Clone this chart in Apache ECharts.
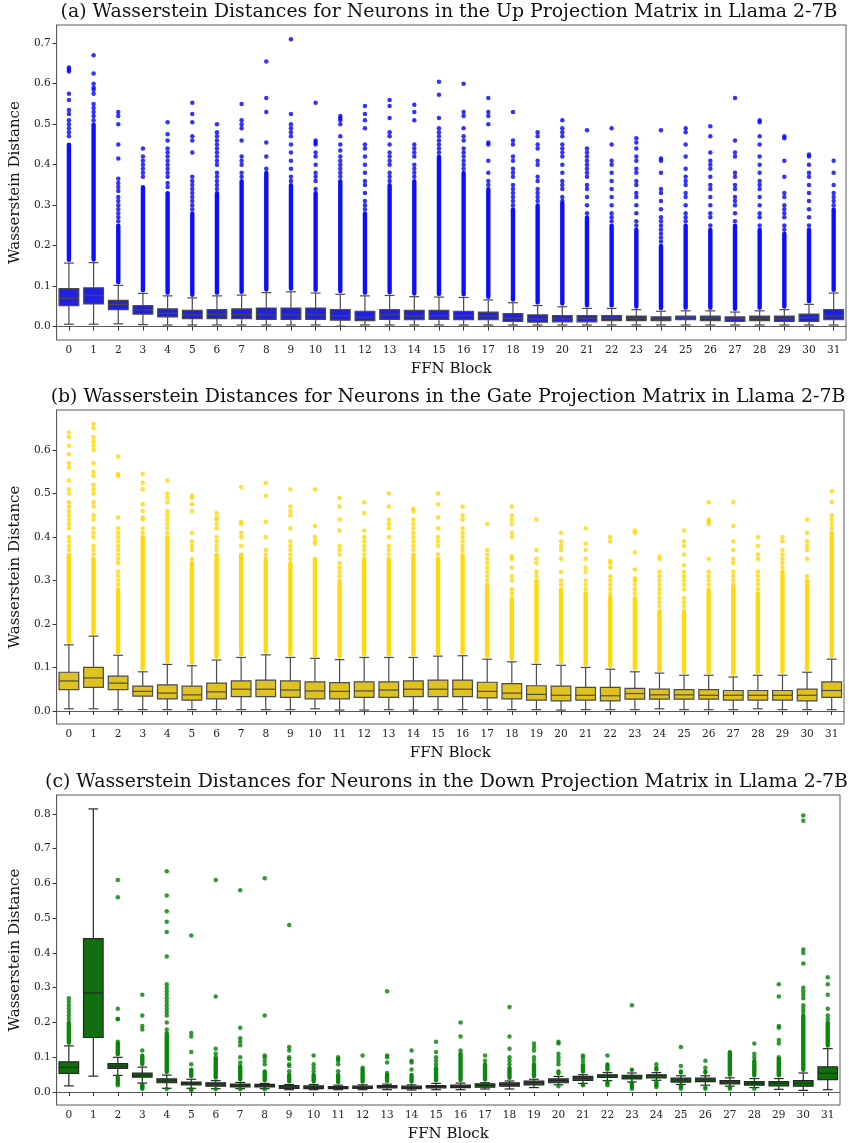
<!DOCTYPE html>
<html><head><meta charset="utf-8">
<script src="https://cdn.jsdelivr.net/npm/echarts@6/dist/echarts.min.js"></script>
<style>html,body{margin:0;padding:0;background:#fff}#c{width:849px;height:1143px}</style>
</head><body><div id="c"></div><script>
// ---------- categories & ticks ----------
const blocks = ['0','1','2','3','4','5','6','7','8','9','10','11','12','13','14','15','16','17','18','19','20','21','22','23','24','25','26','27','28','29','30','31'];
const ticksA = [0.0,0.1,0.2,0.3,0.4,0.5,0.6,0.7];
const ticksB = [0.0,0.1,0.2,0.3,0.4,0.5,0.6];
const ticksC = [0.0,0.1,0.2,0.3,0.4,0.5,0.6,0.7,0.8];

// ---------- (a) Up projection ----------
const aLow  = [0.006,0.006,0.007,0.005,0.004,0.004,0.004,0.004,0.004,0.004,0.004,0.001,0.004,0.004,0.004,0.004,0.004,0.004,0.004,0.004,0.004,0.004,0.004,0.004,0.004,0.004,0.004,0.004,0.004,0.004,0.004,0.004];
const aQ1   = [0.052,0.056,0.042,0.031,0.024,0.020,0.020,0.020,0.018,0.018,0.018,0.016,0.015,0.018,0.017,0.018,0.017,0.017,0.013,0.011,0.012,0.012,0.015,0.015,0.015,0.017,0.015,0.013,0.015,0.013,0.013,0.017];
const aMed  = [0.070,0.077,0.055,0.041,0.033,0.029,0.030,0.030,0.029,0.029,0.029,0.027,0.023,0.029,0.026,0.027,0.027,0.026,0.021,0.019,0.019,0.020,0.021,0.020,0.019,0.022,0.021,0.019,0.020,0.019,0.022,0.026];
const aQ3   = [0.094,0.096,0.065,0.052,0.044,0.040,0.042,0.044,0.046,0.046,0.046,0.042,0.038,0.042,0.040,0.040,0.038,0.036,0.032,0.029,0.027,0.027,0.027,0.026,0.024,0.026,0.026,0.024,0.026,0.026,0.031,0.042];
const aHigh = [0.157,0.158,0.102,0.082,0.076,0.071,0.076,0.078,0.084,0.086,0.083,0.080,0.076,0.077,0.074,0.073,0.072,0.066,0.059,0.052,0.049,0.045,0.045,0.042,0.038,0.039,0.039,0.036,0.039,0.042,0.055,0.083];
const aDense = [0.45,0.50,0.25,0.345,0.33,0.28,0.33,0.36,0.38,0.35,0.33,0.36,0.28,0.35,0.36,0.42,0.38,0.34,0.29,0.30,0.305,0.27,0.25,0.24,0.20,0.25,0.24,0.25,0.24,0.23,0.24,0.29];
const aOut = [
 [0.47,0.48,0.49,0.50,0.51,0.525,0.535,0.56,0.575,0.63,0.635,0.64],
 [0.51,0.52,0.53,0.54,0.55,0.575,0.585,0.59,0.60,0.625,0.67],
 [0.26,0.27,0.28,0.29,0.30,0.31,0.32,0.335,0.345,0.355,0.365,0.415,0.45,0.50,0.52,0.53],
 [0.37,0.38,0.39,0.40,0.41,0.42,0.44],
 [0.345,0.355,0.37,0.38,0.39,0.40,0.41,0.42,0.43,0.44,0.46,0.475,0.505],
 [0.29,0.30,0.31,0.32,0.33,0.34,0.35,0.36,0.37,0.43,0.46,0.47,0.505,0.525,0.553],
 [0.34,0.35,0.36,0.37,0.38,0.40,0.41,0.42,0.43,0.44,0.45,0.46,0.47,0.48,0.50],
 [0.37,0.38,0.40,0.41,0.42,0.46,0.49,0.50,0.51,0.55],
 [0.39,0.42,0.455,0.53,0.565,0.655],
 [0.36,0.37,0.39,0.41,0.43,0.45,0.47,0.48,0.49,0.50,0.525,0.71],
 [0.34,0.36,0.37,0.38,0.40,0.42,0.43,0.45,0.455,0.46,0.553],
 [0.37,0.38,0.39,0.40,0.41,0.42,0.435,0.45,0.47,0.50,0.51,0.515,0.52],
 [0.29,0.30,0.31,0.33,0.35,0.36,0.38,0.40,0.42,0.44,0.45,0.49,0.51,0.525,0.545],
 [0.36,0.37,0.38,0.40,0.41,0.42,0.43,0.45,0.47,0.48,0.515,0.545,0.56],
 [0.37,0.38,0.39,0.40,0.42,0.43,0.44,0.45,0.51,0.53,0.548],
 [0.43,0.44,0.45,0.46,0.47,0.48,0.49,0.515,0.573,0.605],
 [0.39,0.40,0.41,0.42,0.43,0.44,0.46,0.47,0.49,0.52,0.53,0.60],
 [0.35,0.36,0.38,0.41,0.45,0.455,0.50,0.52,0.53,0.565],
 [0.30,0.31,0.32,0.33,0.34,0.35,0.37,0.38,0.39,0.41,0.42,0.45,0.46,0.53],
 [0.31,0.32,0.33,0.34,0.36,0.37,0.40,0.41,0.44,0.45,0.47,0.48],
 [0.31,0.32,0.34,0.35,0.36,0.38,0.40,0.42,0.43,0.44,0.45,0.47,0.48,0.49,0.51],
 [0.28,0.30,0.32,0.34,0.35,0.37,0.38,0.39,0.40,0.41,0.42,0.43,0.44,0.485],
 [0.26,0.27,0.28,0.30,0.32,0.34,0.36,0.38,0.40,0.41,0.45,0.49],
 [0.25,0.26,0.28,0.30,0.32,0.33,0.35,0.36,0.38,0.39,0.41,0.42,0.44,0.455,0.465],
 [0.21,0.22,0.23,0.24,0.25,0.26,0.27,0.29,0.31,0.33,0.34,0.38,0.41,0.415,0.485],
 [0.26,0.27,0.28,0.30,0.32,0.33,0.35,0.36,0.37,0.39,0.42,0.45,0.48,0.49],
 [0.25,0.27,0.28,0.30,0.32,0.34,0.35,0.37,0.39,0.40,0.41,0.43,0.47,0.495],
 [0.26,0.28,0.30,0.31,0.32,0.34,0.35,0.37,0.38,0.42,0.43,0.46,0.565],
 [0.25,0.27,0.28,0.30,0.32,0.34,0.35,0.36,0.38,0.40,0.42,0.45,0.47,0.505,0.51],
 [0.24,0.25,0.27,0.28,0.29,0.30,0.32,0.33,0.37,0.41,0.465,0.47],
 [0.25,0.27,0.29,0.31,0.33,0.35,0.37,0.38,0.40,0.42,0.425],
 [0.30,0.31,0.32,0.33,0.35,0.38,0.41]
];

// ---------- (b) Gate projection ----------
const bLow  = [0.005,0.005,0.003,0.003,0.003,0.003,0.003,0.003,0.003,0.003,0.005,0.002,0.002,0.003,0.002,0.003,0.003,0.003,0.003,0.003,0.002,0.003,0.003,0.003,0.005,0.003,0.003,0.003,0.005,0.003,0.003,0.003];
const bQ1   = [0.049,0.054,0.049,0.034,0.028,0.025,0.028,0.033,0.033,0.031,0.028,0.028,0.031,0.031,0.033,0.033,0.033,0.030,0.028,0.025,0.023,0.025,0.023,0.027,0.027,0.027,0.027,0.025,0.025,0.025,0.023,0.031];
const bMed  = [0.069,0.076,0.064,0.045,0.041,0.037,0.044,0.050,0.050,0.048,0.046,0.045,0.046,0.048,0.050,0.050,0.050,0.045,0.041,0.038,0.036,0.036,0.035,0.040,0.037,0.037,0.036,0.036,0.036,0.036,0.036,0.047];
const bQ3   = [0.089,0.100,0.080,0.057,0.060,0.057,0.064,0.069,0.071,0.069,0.067,0.065,0.067,0.067,0.069,0.071,0.071,0.066,0.063,0.058,0.057,0.054,0.054,0.052,0.050,0.049,0.049,0.047,0.047,0.047,0.050,0.067];
const bHigh = [0.152,0.172,0.128,0.090,0.107,0.104,0.117,0.123,0.129,0.123,0.121,0.118,0.123,0.123,0.123,0.126,0.127,0.119,0.113,0.107,0.105,0.100,0.096,0.090,0.087,0.082,0.082,0.078,0.082,0.082,0.089,0.119];
const bDense = [0.36,0.35,0.28,0.40,0.40,0.34,0.36,0.36,0.35,0.34,0.35,0.30,0.35,0.35,0.36,0.35,0.355,0.29,0.255,0.30,0.28,0.27,0.263,0.26,0.23,0.225,0.28,0.285,0.27,0.32,0.30,0.41];
const bOut = [
 [0.37,0.38,0.39,0.40,0.42,0.43,0.44,0.45,0.46,0.47,0.48,0.50,0.51,0.53,0.56,0.57,0.59,0.61,0.63,0.64],
 [0.36,0.37,0.38,0.40,0.41,0.42,0.44,0.45,0.47,0.48,0.50,0.51,0.52,0.54,0.55,0.57,0.60,0.61,0.62,0.63,0.65,0.66],
 [0.29,0.30,0.31,0.32,0.34,0.35,0.36,0.37,0.38,0.39,0.40,0.41,0.42,0.445,0.54,0.545,0.585],
 [0.41,0.42,0.44,0.445,0.46,0.475,0.51,0.525,0.545],
 [0.41,0.42,0.43,0.44,0.45,0.46,0.48,0.49,0.50,0.53],
 [0.35,0.37,0.38,0.39,0.41,0.46,0.475,0.49,0.495],
 [0.37,0.38,0.39,0.40,0.42,0.43,0.44,0.445,0.455],
 [0.38,0.40,0.41,0.43,0.435,0.515],
 [0.36,0.37,0.40,0.435,0.495,0.525],
 [0.35,0.36,0.37,0.38,0.39,0.42,0.45,0.46,0.47,0.51],
 [0.385,0.39,0.40,0.425,0.51],
 [0.31,0.32,0.33,0.34,0.36,0.37,0.38,0.415,0.44,0.47,0.49],
 [0.36,0.37,0.38,0.39,0.40,0.415,0.455,0.48],
 [0.36,0.37,0.38,0.40,0.42,0.43,0.44,0.47,0.50],
 [0.37,0.38,0.39,0.40,0.41,0.42,0.43,0.44,0.46,0.465],
 [0.36,0.38,0.39,0.40,0.42,0.445,0.475,0.50],
 [0.36,0.37,0.38,0.39,0.40,0.41,0.42,0.44,0.45,0.47],
 [0.30,0.31,0.32,0.33,0.34,0.35,0.36,0.37,0.43],
 [0.26,0.27,0.28,0.30,0.31,0.33,0.35,0.355,0.40,0.41,0.43,0.44,0.45,0.47],
 [0.31,0.32,0.34,0.35,0.37,0.44],
 [0.29,0.30,0.32,0.35,0.37,0.38,0.39,0.41],
 [0.28,0.29,0.30,0.32,0.33,0.35,0.37,0.385,0.42],
 [0.27,0.28,0.29,0.30,0.31,0.33,0.34,0.345,0.39,0.40],
 [0.27,0.28,0.29,0.30,0.305,0.325,0.365,0.41,0.415],
 [0.24,0.25,0.26,0.27,0.28,0.29,0.30,0.31,0.32,0.35,0.355],
 [0.23,0.24,0.25,0.26,0.28,0.29,0.30,0.31,0.32,0.335,0.36,0.38,0.39,0.415],
 [0.29,0.30,0.31,0.32,0.35,0.43,0.435,0.44,0.48],
 [0.29,0.30,0.31,0.32,0.34,0.35,0.37,0.39,0.425,0.48],
 [0.28,0.29,0.30,0.31,0.32,0.35,0.36,0.38,0.40],
 [0.33,0.34,0.35,0.36,0.37,0.39,0.40],
 [0.31,0.35,0.37,0.38,0.39,0.41,0.44],
 [0.42,0.43,0.44,0.45,0.48,0.505]
];

// ---------- (c) Down projection ----------
const cLow  = [0.018,0.046,0.048,0.026,0.011,0.011,0.010,0.010,0.010,0.007,0.007,0.007,0.007,0.007,0.006,0.007,0.007,0.009,0.009,0.013,0.021,0.025,0.033,0.029,0.034,0.022,0.020,0.017,0.013,0.008,0.005,0.007];
const cQ1   = [0.054,0.157,0.068,0.043,0.027,0.021,0.017,0.015,0.015,0.011,0.010,0.010,0.011,0.012,0.010,0.012,0.013,0.014,0.017,0.021,0.027,0.034,0.042,0.038,0.041,0.029,0.030,0.024,0.020,0.018,0.017,0.036];
const cMed  = [0.071,0.285,0.075,0.049,0.032,0.025,0.023,0.019,0.018,0.015,0.014,0.013,0.014,0.016,0.013,0.016,0.016,0.019,0.022,0.027,0.033,0.040,0.047,0.043,0.047,0.035,0.035,0.029,0.025,0.025,0.025,0.054];
const cQ3   = [0.087,0.441,0.082,0.055,0.038,0.029,0.027,0.023,0.022,0.019,0.018,0.016,0.017,0.019,0.017,0.019,0.020,0.024,0.027,0.032,0.038,0.045,0.050,0.048,0.050,0.040,0.040,0.033,0.030,0.030,0.033,0.073];
const cHigh = [0.133,0.814,0.100,0.072,0.049,0.037,0.033,0.028,0.025,0.022,0.022,0.020,0.021,0.023,0.021,0.025,0.026,0.027,0.032,0.037,0.045,0.050,0.056,0.055,0.056,0.047,0.047,0.041,0.039,0.039,0.055,0.125];
const cDense = [0.20,null,0.14,0.105,0.17,0.065,0.095,0.075,0.06,0.05,0.05,0.05,0.06,0.05,0.05,0.07,0.11,0.08,0.07,0.08,0.06,0.075,0.08,0.065,0.07,0.06,0.06,0.115,0.09,0.095,0.22,0.20];
const cOut = [
 [0.21,0.22,0.23,0.24,0.25,0.26,0.27],
 [],
 [0.145,0.21,0.21,0.24,0.56,0.61,0.045,0.04,0.035,0.03,0.025,0.02],
 [0.12,0.18,0.19,0.22,0.28,0.022,0.018,0.015,0.012,0.01],
 [0.18,0.20,0.22,0.23,0.24,0.25,0.26,0.27,0.28,0.29,0.30,0.31,0.39,0.46,0.49,0.52,0.565,0.635,0.009],
 [0.08,0.115,0.16,0.17,0.45,0.008,0.006],
 [0.10,0.11,0.125,0.275,0.61,0.008],
 [0.085,0.10,0.135,0.145,0.155,0.185,0.58,0.008],
 [0.08,0.09,0.10,0.105,0.22,0.615,0.008],
 [0.06,0.075,0.08,0.095,0.10,0.12,0.13,0.48],
 [0.06,0.07,0.08,0.105],
 [0.06,0.08,0.09,0.095,0.10],
 [0.065,0.07,0.105],
 [0.055,0.085,0.10,0.105,0.29],
 [0.065,0.085,0.09,0.12],
 [0.08,0.09,0.10,0.115,0.145],
 [0.12,0.16,0.20],
 [0.09,0.105],
 [0.08,0.09,0.10,0.125,0.16,0.245],
 [0.09,0.10,0.12,0.13,0.14],
 [0.08,0.09,0.10,0.11,0.14,0.145,0.017],
 [0.08,0.09,0.10,0.105,0.022,0.02],
 [0.105,0.03,0.025,0.02],
 [0.25,0.028,0.025,0.02,0.015,0.01],
 [0.08,0.03,0.025,0.02,0.015],
 [0.075,0.13,0.02,0.015,0.01],
 [0.07,0.09,0.015,0.01],
 [0.013,0.01],
 [0.10,0.11,0.14,0.01],
 [0.10,0.14,0.15,0.185,0.19,0.275,0.31],
 [0.23,0.24,0.25,0.27,0.28,0.29,0.30,0.37,0.40,0.41,0.78,0.795],
 [0.21,0.22,0.24,0.28,0.31,0.33]
];

const titles = [
 '(a) Wasserstein Distances for Neurons in the Up Projection Matrix in Llama 2-7B',
 '(b) Wasserstein Distances for Neurons in the Gate Projection Matrix in Llama 2-7B',
 '(c) Wasserstein Distances for Neurons in the Down Projection Matrix in Llama 2-7B'
];

const SERIF = 'DejaVu Serif';
const panels = [
  {grid:{left:53, top:25, width:793, height:315}, min:-0.033, max:0.745, ticks:ticksA,
   low:aLow,q1:aQ1,med:aMed,q3:aQ3,high:aHigh,dense:aDense,out:aOut,
   fill:'#2020df', line:'#4a4a4a', flier:'#0000ff', titleX:449, titleY:12.5},
  {grid:{left:54, top:410, width:790, height:314}, min:-0.030, max:0.692, ticks:ticksB,
   low:bLow,q1:bQ1,med:bMed,q3:bQ3,high:bHigh,dense:bDense,out:bOut,
   fill:'#dfc120', line:'#4a4a4a', flier:'#ffd700', titleX:448, titleY:397.5},
  {grid:{left:53, top:795, width:787, height:313}, min:-0.037, max:0.854, ticks:ticksC,
   low:cLow,q1:cQ1,med:cMed,q3:cQ3,high:cHigh,dense:cDense,out:cOut,
   fill:'#107010', line:'#262626', flier:'#008000', titleX:446.5, titleY:782.5}
];

const grids=[], xAxes=[], yAxes=[], series=[], graphics=[];
panels.forEach((p, k) => {
  grids.push(Object.assign({show:true, borderColor:'#5a5a5a', borderWidth:1, backgroundColor:'#fff'}, p.grid));
  xAxes.push({gridIndex:k, type:'category', data:blocks, boundaryGap:true,
    axisLine:{show:true, lineStyle:{color:'#5a5a5a'}},
    axisTick:{show:true, alignWithLabel:true, length:4, lineStyle:{color:'#333'}},
    axisLabel:{fontFamily:SERIF, fontSize:10.5, color:'#222', margin:5, interval:0},
    name:'FFN Block', nameLocation:'middle', nameGap:22,
    nameTextStyle:{fontFamily:SERIF, fontSize:15, color:'#111'}});
  yAxes.push({gridIndex:k, type:'value', min:p.min, max:p.max,
    splitLine:{show:false},
    axisLine:{show:true, lineStyle:{color:'#5a5a5a'}},
    axisTick:{show:true, length:4, customValues:p.ticks, lineStyle:{color:'#333'}},
    axisLabel:{fontFamily:SERIF, fontSize:10.5, color:'#222', margin:6, customValues:p.ticks,
      formatter:v => Number(v).toFixed(1)},
    name:'Wasserstein Distance', nameLocation:'middle', nameGap:32,
    nameTextStyle:{fontFamily:SERIF, fontSize:15, color:'#111'}});
  const rows = p.low.map((_, i) => [i, p.low[i], p.q1[i], p.med[i], p.q3[i], p.high[i], p.dense[i] == null ? p.high[i] : p.dense[i]]);
  series.push({type:'custom', xAxisIndex:k, yAxisIndex:k, data:rows, z:2, silent:true,
    encode:{x:0, y:[1,5]},
    renderItem:(params, api) => {
      const x = api.value(0);
      const yl = api.coord([x, api.value(1)])[1];
      const y1 = api.coord([x, api.value(2)])[1];
      const ym = api.coord([x, api.value(3)])[1];
      const y3 = api.coord([x, api.value(4)])[1];
      const yh = api.coord([x, api.value(5)])[1];
      const yd = api.coord([x, api.value(6)])[1];
      const cx = api.coord([x, 0])[0];
      const bw = api.size([1, 0])[0] * 0.8;
      const cw = bw * 0.5;
      const ls = {stroke:p.line, lineWidth:1.2};
      const ch = [];
      if (yd < yh - 1) {
        ch.push({type:'rect', shape:{x:cx-2.2, y:yd-2, width:4.4, height:(yh-yd)+1, r:2.2},
          style:{fill:p.flier, opacity:0.95}});
      }
      ch.push({type:'line', shape:{x1:cx, y1:y3, x2:cx, y2:yh}, style:ls});
      ch.push({type:'line', shape:{x1:cx, y1:y1, x2:cx, y2:yl}, style:ls});
      ch.push({type:'line', shape:{x1:cx-cw/2, y1:yh, x2:cx+cw/2, y2:yh}, style:ls});
      ch.push({type:'line', shape:{x1:cx-cw/2, y1:yl, x2:cx+cw/2, y2:yl}, style:ls});
      ch.push({type:'rect', shape:{x:cx-bw/2, y:y3, width:bw, height:Math.max(y1-y3,1)},
        style:{fill:p.fill, stroke:p.line, lineWidth:1.2}});
      ch.push({type:'line', shape:{x1:cx-bw/2, y1:ym, x2:cx+bw/2, y2:ym}, style:ls});
      return {type:'group', children:ch};
    }});
  const pts = [];
  p.out.forEach((arr, i) => arr.forEach(v => pts.push([i, v])));
  series.push({type:'scatter', xAxisIndex:k, yAxisIndex:k, data:pts, symbolSize:4.5, z:3, silent:true,
    itemStyle:{color:p.flier, opacity:0.8}});
  graphics.push({type:'text', x:p.titleX, y:p.titleY,
    style:{text:titles[k], font:'18.9px "DejaVu Serif"', fill:'#111', align:'center', verticalAlign:'middle'}});
});

const chart = echarts.init(document.getElementById('c'), null, {renderer:'canvas'});
chart.setOption({animation:false, backgroundColor:'#fff', grid:grids, xAxis:xAxes, yAxis:yAxes, series, graphic:graphics});
</script></body></html>
